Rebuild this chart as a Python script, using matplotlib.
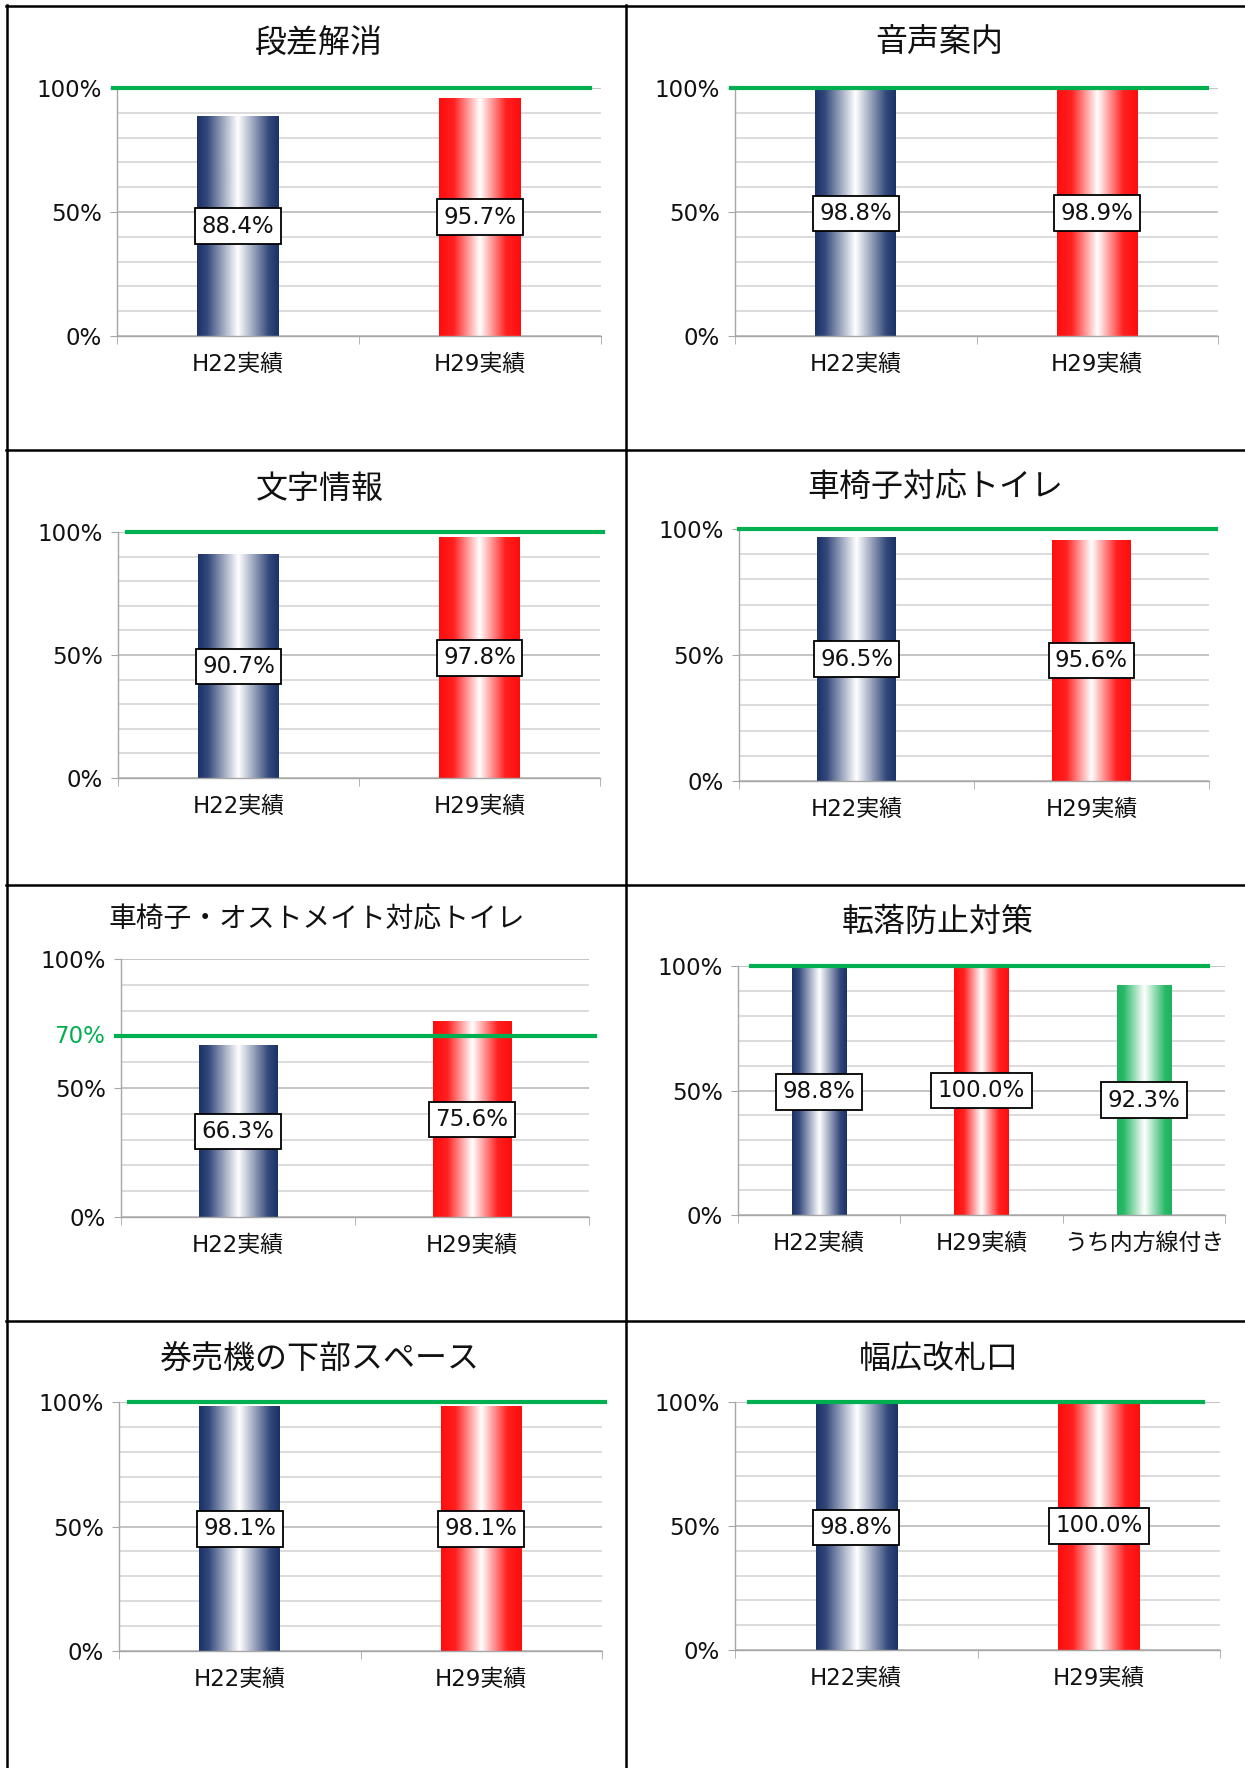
import matplotlib
matplotlib.use('Agg')
import matplotlib.pyplot as plt
import numpy as np
from matplotlib.colors import LinearSegmentedColormap
from matplotlib.lines import Line2D

plt.rcParams['font.family'] = ['Noto Sans CJK JP', 'DejaVu Sans']
LATIN = ['DejaVu Sans', 'Noto Sans CJK JP']

# ---------------- data ----------------
titles = ['段差解消', '音声案内', '文字情報', '車椅子対応トイレ',
          '車椅子・オストメイト対応トイレ', '転落防止対策',
          '券売機の下部スペース', '幅広改札口']
cats_2 = ['H22実績', 'H29実績']
cats_3 = ['H22実績', 'H29実績', 'うち内方線付き']

step_free = [88.4, 95.7]
audio_guide = [98.8, 98.9]
text_info = [90.7, 97.8]
wheelchair_toilet = [96.5, 95.6]
ostomate_toilet = [66.3, 75.6]
fall_prevention = [98.8, 100.0, 92.3]
ticket_machine = [98.1, 98.1]
wide_gate = [98.8, 100.0]

targets = [100, 100, 100, 100, 70, 100, 100, 100]
target_labels = [None, None, None, None, '70%', None, None, None]
y_ticks = [0, 50, 100]
y_tick_labels = ['0%', '50%', '100%']

series = [step_free, audio_guide, text_info, wheelchair_toilet,
          ostomate_toilet, fall_prevention, ticket_machine, wide_gate]
categories = [cats_2, cats_2, cats_2, cats_2, cats_2, cats_3, cats_2, cats_2]

# ---------------- layout (pixels) ----------------
W, H = 1245, 1768
# (left, right, top, bottom) of plotting areas
boxes = [(117, 601, 88, 336), (735, 1218, 88, 336),
         (118, 600, 532, 778), (739, 1209, 529, 781),
         (121, 589, 959, 1217), (738, 1225, 966, 1215),
         (119, 602, 1402, 1651), (735, 1220, 1402, 1650)]
title_pos = [(319, 43), (939, 43), (320, 489), (935, 487),
             (317, 919), (938, 922), (320, 1359), (939, 1359)]
title_sizes = [23, 23, 23, 23, 20, 23, 23, 23]
# horizontal extent of target line in axes fraction
line_ext = [(-0.008, 0.977), (-0.008, 0.977), (0.019, 1.006), (0.0, 1.015),
            (-0.01, 1.012), (0.027, 0.965), (0.021, 1.007), (0.029, 0.965)]

navy = '#1B3268'
red = '#FF0D0D'
green = '#1DB360'
cmaps = [
    LinearSegmentedColormap.from_list('b', [(0, navy), (0.12, '#33487A'), (0.5, '#FFFFFF'), (0.88, '#33487A'), (1, navy)]),
    LinearSegmentedColormap.from_list('r', [(0, red), (0.18, '#FF2020'), (0.5, '#FFFFFF'), (0.82, '#FF2020'), (1, red)]),
    LinearSegmentedColormap.from_list('g', [(0, green), (0.12, '#28B866'), (0.5, '#FFFFFF'), (0.88, '#28B866'), (1, green)]),
]
TARGET_GREEN = '#00B050'

fig = plt.figure(figsize=(W / 100, H / 100), dpi=100)

grad = np.linspace(0, 1, 256).reshape(1, -1)

for i in range(8):
    l, r, t, b = boxes[i]
    ax = fig.add_axes([l / W, 1 - b / H, (r - l) / W, (b - t) / H])
    vals = series[i]
    cats = categories[i]
    n = len(vals)
    x = np.arange(n)
    bars = ax.bar(x, vals, width=0.335, color='none', zorder=2)
    for j, p in enumerate(bars.patches):
        x0, w, h = p.get_x(), p.get_width(), p.get_height()
        ax.imshow(grad, extent=[x0, x0 + w, 0, h], aspect='auto',
                  cmap=cmaps[j], zorder=2, interpolation='bilinear')
        ax.text(x0 + w / 2, h / 2, f'{vals[j]:.1f}%', ha='center', va='center',
                fontsize=16.5, zorder=5, family=LATIN, color='#111111',
                bbox=dict(boxstyle='square,pad=0.28', fc='white', ec='black', lw=1.3))
    ax.set_xlim(-0.5, n - 0.5)
    ax.set_ylim(0, 100)

    # target line
    xa, xb = line_ext[i]
    ax.axhline(targets[i], xmin=xa, xmax=xb, color=TARGET_GREEN, lw=3.0,
               zorder=4, clip_on=False)

    # grid
    ax.set_axisbelow(True)
    ax.set_yticks(y_ticks)
    ax.set_yticks(np.arange(0, 101, 10), minor=True)
    ax.grid(axis='y', which='minor', color='#D9D9D9', lw=1.3)
    ax.grid(axis='y', which='major', color='#BFBFBF', lw=1.3)
    ax.set_yticklabels(y_tick_labels, fontsize=16.5, family=LATIN, color='#111111')
    ax.tick_params(axis='y', which='major', length=5, color='#A6A6A6', pad=6)
    ax.tick_params(axis='y', which='minor', length=0)
    if target_labels[i]:
        ax.text(-0.035, targets[i], target_labels[i], transform=ax.get_yaxis_transform(),
                ha='right', va='center', fontsize=16.5, family=LATIN, color=TARGET_GREEN)

    ax.set_xticks(x)
    ax.set_xticklabels(cats, fontsize=16.5, family=LATIN, color='#111111')
    ax.set_xticks(np.arange(-0.5, n, 1.0), minor=True)
    ax.tick_params(axis='x', which='major', length=0, pad=12)
    ax.tick_params(axis='x', which='minor', length=6, color='#A6A6A6')

    for s in ['top', 'right']:
        ax.spines[s].set_visible(False)
    for s in ['left', 'bottom']:
        ax.spines[s].set_color('#A6A6A6')
        ax.spines[s].set_linewidth(1.0)

    cx, cy = title_pos[i]
    fig.text(cx / W, 1 - cy / H, titles[i], ha='center', va='center',
             fontsize=title_sizes[i], color='#111111')

# panel frame lines
lw = 1.8
def hline(y, x0, x1):
    fig.add_artist(Line2D([x0 / W, x1 / W], [1 - y / H, 1 - y / H], color='black', lw=lw))
def vline(x, y0, y1):
    fig.add_artist(Line2D([x / W, x / W], [1 - y0 / H, 1 - y1 / H], color='black', lw=lw))

hline(6, 6, W)
for yy in [450, 885, 1321]:
    hline(yy, 6, W)
vline(7, 5, H)
vline(626, 5, H)

fig.savefig('out.png', dpi=100, facecolor='white')
